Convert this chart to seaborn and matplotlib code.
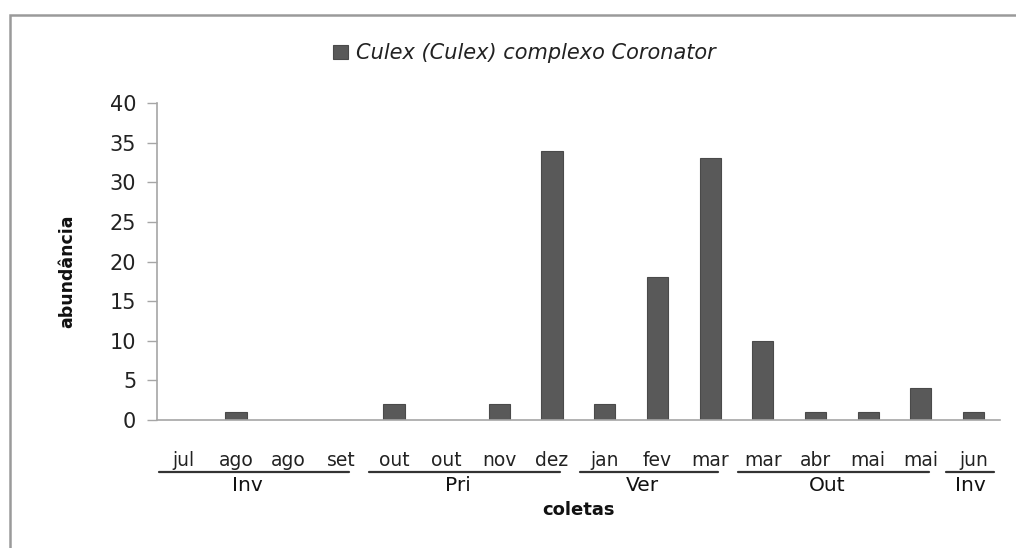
import matplotlib
matplotlib.use("Agg")
import matplotlib.pyplot as plt
import matplotlib.transforms as mtransforms
from matplotlib.patches import Rectangle
import seaborn as sns
import pandas as pd

# ---- data ----
months = ["jul", "ago", "ago", "set", "out", "out", "nov", "dez",
          "jan", "fev", "mar", "mar", "abr", "mai", "mai", "jun"]
abundancia = [0, 1, 0, 0, 2, 0, 2, 34, 2, 18, 33, 10, 1, 1, 4, 1]
seasons = ["Inv", "Pri", "Ver", "Out", "Inv"]
season_start = [0, 4, 8, 11, 15]   # first index of each season group
season_end = [3, 7, 10, 14, 15]    # last index of each season group
series_name = "Culex (Culex) complexo Coronator"

sns.set_theme(style="white")
plt.rcParams["font.family"] = ["DejaVu Sans"]

ids = [f"{m}_{i}" for i, m in enumerate(months)]
df = pd.DataFrame({"coleta": ids, "abundancia": abundancia})

fig = plt.figure(figsize=(10.16, 5.48), dpi=100)
fig.patch.set_facecolor("white")
ax = fig.add_axes([0.1545, 0.2336, 0.8295, 0.5784])

sns.barplot(data=df, x="coleta", y="abundancia", order=ids, color="#595959",
            width=0.4, saturation=1, edgecolor="#4a4a4a", linewidth=0.8,
            label=series_name, ax=ax)

ax.set_ylim(0, 40)
ax.set_yticks(range(0, 41, 5))
ax.set_xlim(-0.5, len(months) - 0.5)
ax.tick_params(axis="y", which="both", left=True, length=7, width=1,
               color="#a6a6a6", labelsize=15, pad=8, labelcolor="#222222")
ax.tick_params(axis="x", bottom=False, length=0, pad=22)
ax.set_xticks(range(len(months)))
ax.set_xticklabels(months, fontsize=13.5, color="#222222")

for side in ["top", "right"]:
    ax.spines[side].set_visible(False)
for side in ["left", "bottom"]:
    ax.spines[side].set_color("#a6a6a6")
    ax.spines[side].set_linewidth(1.2)

ax.set_ylabel("abundância", fontsize=12.5, fontweight="bold",
              color="#111111", va="center")
ax.yaxis.set_label_coords(-0.106, 0.47)
ax.set_xlabel("coletas", fontsize=13, fontweight="bold", color="#111111",
              va="center")
ax.xaxis.set_label_coords(0.5, -0.283)

# season group lines and labels
trans = mtransforms.blended_transform_factory(ax.transData, ax.transAxes)
for name, s, e in zip(seasons, season_start, season_end):
    if s == e:
        x0, x1 = s - 0.52, e + 0.39
        xc = (x0 + x1) / 2
    else:
        x0, x1 = s - 0.47, e + 0.15
        xc = (x0 + x1) / 2 - 0.12
    ax.plot([x0, x1], [-0.163, -0.163], color="#333333", lw=1.6,
            transform=trans, clip_on=False)
    ax.text(xc, -0.208, name, transform=trans, ha="center", va="center",
            fontsize=14.5, color="#111111")

# legend
leg = ax.legend(loc="center", bbox_to_anchor=(0.5165, 0.903),
                bbox_transform=fig.transFigure, frameon=False,
                handlelength=0.7, handleheight=0.7, handletextpad=0.4,
                prop={"size": 15, "style": "italic"})
for t in leg.get_texts():
    t.set_color("#222222")

# outer chart border (Excel chart area)
fig.patches.append(Rectangle((10 / 1016, -0.05), 1.1, 1 - 15 / 548 + 0.05,
                             transform=fig.transFigure, fill=False,
                             edgecolor="#9a9a9a", linewidth=1.8,
                             clip_on=False))

fig.savefig("out.png", dpi=100, facecolor="white")
